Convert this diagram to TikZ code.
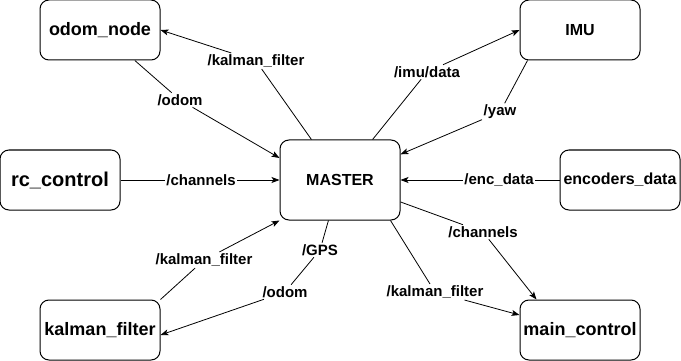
\documentclass[tikz,border=0pt]{standalone}
\usepackage{fontspec}
\setmainfont{Liberation Sans}
\usetikzlibrary{arrows.meta}
\begin{document}
\begin{tikzpicture}[x=1pt,y=-1pt]
\tikzstyle{box} = [minimum width=120pt, minimum height=60pt, draw, rounded corners=9pt, line width=1pt];
\tikzstyle{lbl} = [inner sep=1.5pt, font=\bfseries\fontsize{15}{17}\selectfont];
\tikzstyle{link} = [line width=0.8pt, -{Stealth[length=8pt,width=6pt,inset=2pt]}];

\useasboundingbox (0,0) rectangle (681,361);

% the nodes around the master
\foreach \n/\x/\y/\s/\t in {odom/100/30/18/odom\_node, imu/580/30/16/IMU,
		rc/60/180/20/rc\_control, enc/620/180/16/encoders\_data,
		kalman/100/330/18/kalman\_filter, main/580/330/18/main\_control}
	\node[box, font=\bfseries\fontsize{\s}{\s}\selectfont] (\n) at (\x,\y) {\t};
\node[box, minimum height=80pt, font=\bfseries\fontsize{16}{18}\selectfont] (master) at (340,180) {MASTER};

% topic labels
\node[lbl] (t-1) at (256,61) {/kalman\_filter};
\node[lbl] (t-2) at (180,100) {/odom};
\node[lbl] (t-3) at (201,180) {/channels};
\node[lbl] (t-4) at (427,72) {/imu/data};
\node[lbl] (t-5) at (500,112) {/yaw};
\node[lbl] (t-6) at (499,180) {/enc\_data};
\node[lbl] (t-7) at (483,232) {/channels};
\node[lbl] (t-8) at (435,292) {/kalman\_filter};
\node[lbl] (t-9) at (204,260) {/kalman\_filter};
\node[lbl] (t-10) at (320,250) {/GPS};
\node[lbl] (t-11) at (285,292) {/odom};

% topics
\draw[link] (master) -- (t-1) -- (odom.east);
\draw[link] (odom) -- (t-2) -- (master.160);
\draw[link] (rc) -- (t-3) -- (master);
\draw[link] (master) -- (t-4) -- (imu.west);
\draw[link] ([xshift=8pt]imu.south west) -- (t-5) -- (master);
\draw[link] (enc) -- (t-6) -- (master);
\draw[link] (master) -- (t-7) -- ([xshift=17pt]main.north west);
\draw[link] ([xshift=-10pt]master.south east) -- (t-8) -- ([yshift=15pt]main.west);
\draw[link] (kalman.north east) -- (t-9) -- (master.south west);
\draw[link] (master) -- (t-10) -- (t-11) -- ([yshift=-5pt]kalman.east);
\end{tikzpicture}
\end{document}
